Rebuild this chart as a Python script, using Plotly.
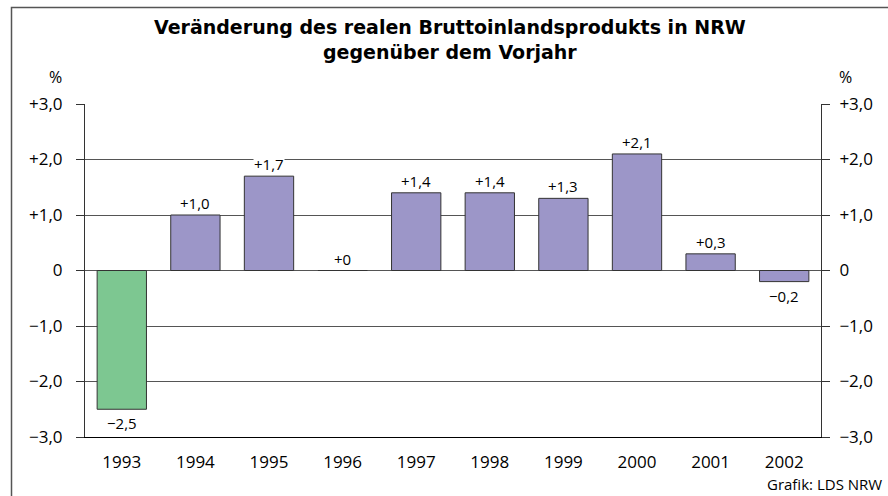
import plotly.graph_objects as go

years = ["1993", "1994", "1995", "1996", "1997", "1998", "1999", "2000", "2001", "2002"]
values = [-2.5, 1.0, 1.7, 0.0, 1.4, 1.4, 1.3, 2.1, 0.3, -0.2]
labels = ["\u22122,5", "+1,0", "+1,7", "+0", "+1,4", "+1,4", "+1,3", "+2,1", "+0,3", "\u22120,2"]
tick_vals = [-3, -2, -1, 0, 1, 2, 3]
tick_text = ["\u22123,0", "\u22122,0", "\u22121,0", "0", "+1,0", "+2,0", "+3,0"]
bar_colors = ["#7DC791"] + ["#9C96C8"] * 9

FONT = "Open Sans"
TITLE_FONT = "DejaVu Sans"
W, H = 888, 496
L, R, T, B = 85, 67, 104, 59
pw, ph = W - L - R, H - T - B

def px_x(x):
    return (x - L) / pw

def px_y(y):
    return (H - B - y) / ph

pos = list(range(len(years)))

fig = go.Figure()
fig.add_trace(go.Bar(
    x=pos, y=values,
    marker=dict(color=bar_colors, line=dict(color="#333333", width=1)),
    width=0.67,
    hoverinfo="skip",
))
fig.add_trace(go.Scatter(x=pos, y=values, yaxis="y2", mode="markers",
                         marker=dict(opacity=0), hoverinfo="skip", showlegend=False))

for p, v, t in zip(pos, values, labels):
    if v < 0:
        fig.add_annotation(x=p, y=v, text=t, showarrow=False, yanchor="top", yshift=-3,
                           font=dict(family=FONT, size=15, color="#000"), bgcolor="white", borderpad=0)
    else:
        fig.add_annotation(x=p, y=v, text=t, showarrow=False, yanchor="bottom", yshift=1,
                           font=dict(family=FONT, size=15, color="#000"), bgcolor="white", borderpad=0)

fig.add_shape(type="rect", xref="paper", yref="paper",
              x0=px_x(11.5), x1=px_x(895), y0=px_y(505), y1=px_y(7.5),
              line=dict(color="#555555", width=1.5), layer="below")

fig.add_annotation(xref="paper", yref="paper", x=px_x(450), y=px_y(14), xanchor="center", yanchor="top",
                   text="<b>Veränderung des realen Bruttoinlandsprodukts in NRW<br>gegenüber dem Vorjahr</b>",
                   showarrow=False, font=dict(family=TITLE_FONT, size=19, color="#000"))
fig.add_annotation(xref="paper", yref="paper", x=px_x(55), y=px_y(77), xanchor="center", yanchor="middle",
                   text="%", showarrow=False, font=dict(family=FONT, size=16, color="#000"))
fig.add_annotation(xref="paper", yref="paper", x=px_x(845), y=px_y(77), xanchor="center", yanchor="middle",
                   text="%", showarrow=False, font=dict(family=FONT, size=16, color="#000"))
fig.add_annotation(xref="paper", yref="paper", x=px_x(884), y=px_y(484), xanchor="right", yanchor="middle",
                   text="Grafik: LDS NRW", showarrow=False, font=dict(family=FONT, size=15, color="#000"))

yaxis_common = dict(
    range=[-3, 3], tickvals=tick_vals, ticktext=tick_text,
    ticks="outside", ticklen=8, tickcolor="#333333", tickwidth=1,
    tickfont=dict(family=FONT, size=17, color="#000"),
    showline=True, linecolor="#333333", linewidth=1,
    zeroline=False, fixedrange=True,
)

fig.update_layout(
    width=W, height=H,
    margin=dict(l=L, r=R, t=T, b=B),
    paper_bgcolor="white", plot_bgcolor="white",
    showlegend=False,
    xaxis=dict(range=[-0.5, 9.5], tickvals=pos, ticktext=years, showgrid=False, zeroline=False,
               showline=True, linecolor="#000", linewidth=1, ticklabelstandoff=10,
               ticks="", tickfont=dict(family=FONT, size=17, color="#000"), fixedrange=True),
    yaxis=dict(**yaxis_common, showgrid=True, gridcolor="#555555", gridwidth=1, side="left",
               ticklabelstandoff=10),
    yaxis2=dict(**yaxis_common, overlaying="y", side="right", showgrid=False, ticklabelstandoff=6),
)
fig.add_hline(y=0, line=dict(color="#000", width=1), layer="below")

fig.write_html("out.html", config={"displayModeBar": False},
               post_script="document.body.style.margin='0';document.body.style.overflow='hidden';")
